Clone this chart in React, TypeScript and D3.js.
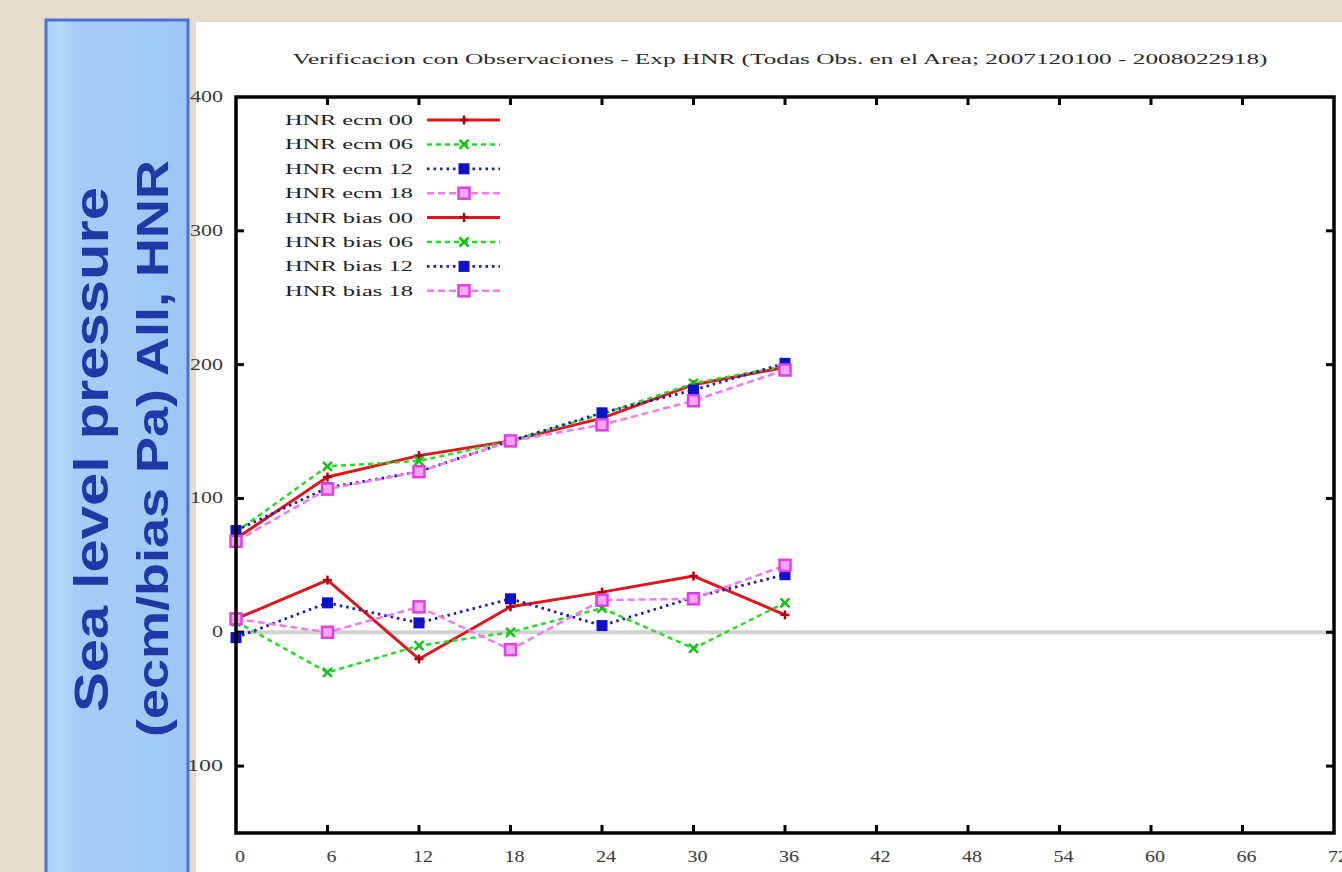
import React from "react";
import * as d3 from "d3";

// Forecast lead times (hours)
const leadTimes = [0, 6, 12, 18, 24, 30, 36];

// RMSE (ecm) per analysis cycle, Pa
const ecm00 = [70, 116, 132, 143, 160, 185, 198];
const ecm06 = [75, 124, 128, 143, 163, 186, 199];
const ecm12 = [76, 108, 120, 143, 164, 181, 201];
const ecm18 = [68, 107, 120, 143, 155, 173, 196];

// Bias per analysis cycle, Pa
const bias00 = [10, 39, -20, 19, 30, 42, 13];
const bias06 = [8, -30, -10, 0, 18, -12, 22];
const bias12 = [-4, 22, 7, 25, 5, 26, 43];
const bias18 = [10, 0, 19, -13, 24, 25, 50];

const xTicks = [0, 6, 12, 18, 24, 30, 36, 42, 48, 54, 60, 66, 72];
const yTicks = [400, 300, 200, 100, 0, -100];

const legendLabels = [
  "HNR ecm 00",
  "HNR ecm 06",
  "HNR ecm 12",
  "HNR ecm 18",
  "HNR bias 00",
  "HNR bias 06",
  "HNR bias 12",
  "HNR bias 18",
];

const titleText =
  "Verificacion con Observaciones - Exp HNR (Todas Obs. en el Area; 2007120100 - 2008022918)";

type Style = { color: string; dash: string; marker: "plus" | "cross" | "fsq" | "osq"; width: number };

const cycleStyles: Style[] = [
  { color: "#e0161c", dash: "none", marker: "plus", width: 3 },
  { color: "#22dd22", dash: "5 4", marker: "cross", width: 2.5 },
  { color: "#1a1ab8", dash: "2.5 4", marker: "fsq", width: 2.8 },
  { color: "#f07af0", dash: "7 4", marker: "osq", width: 2.5 },
];

const seriesValues = [ecm00, ecm06, ecm12, ecm18, bias00, bias06, bias12, bias18];

const W = 1342;
const H = 872;
const x = d3.scaleLinear().domain([0, 72]).range([236, 1334]);
const y = d3.scaleLinear().domain([-150, 400]).range([833, 97]);

function Marker({ cx, cy, s }: { cx: number; cy: number; s: Style }) {
  if (s.marker === "plus") {
    return (
      <g stroke="#b00010" strokeWidth={2.5}>
        <line x1={cx - 4.5} x2={cx + 4.5} y1={cy} y2={cy} />
        <line x1={cx} x2={cx} y1={cy - 4.5} y2={cy + 4.5} />
      </g>
    );
  }
  if (s.marker === "cross") {
    return (
      <g stroke="#18c018" strokeWidth={2.5}>
        <line x1={cx - 4.5} x2={cx + 4.5} y1={cy - 4.5} y2={cy + 4.5} />
        <line x1={cx - 4.5} x2={cx + 4.5} y1={cy + 4.5} y2={cy - 4.5} />
      </g>
    );
  }
  if (s.marker === "fsq") {
    return <rect x={cx - 5.5} y={cy - 5.5} width={11} height={11} fill="#1010c8" />;
  }
  return (
    <rect x={cx - 5.5} y={cy - 5.5} width={11} height={11} fill="#f6a8f6" stroke="#e040e0" strokeWidth={2.5} />
  );
}

export default function App() {
  const line = d3
    .line<number>()
    .x((_, i) => x(leadTimes[i]))
    .y((d) => y(d));

  return (
    <svg
      width={W}
      height={H}
      style={{ position: "absolute", left: 0, top: 0, display: "block" }}
      fontFamily="'Liberation Serif', 'DejaVu Serif', serif"
    >
      <defs>
        <linearGradient id="boxFill" x1="0" x2="1" y1="0" y2="0">
          <stop offset="0" stopColor="#a7cff6" />
          <stop offset="0.1" stopColor="#b6dafa" />
          <stop offset="0.2" stopColor="#a6cdf6" />
          <stop offset="1" stopColor="#9ec8f4" />
        </linearGradient>
      </defs>

      {/* page background */}
      <rect x={0} y={0} width={W} height={H} fill="#e6dccc" />
      <rect x={196} y={22} width={W - 196} height={H - 22} fill="#ffffff" />

      {/* title */}
      <text
        x={780}
        y={64}
        textAnchor="middle"
        fontSize={15}
        fill="#2a2a2a"
        textLength={975}
        lengthAdjust="spacingAndGlyphs"
      >
        {titleText}
      </text>

      {/* zero reference line */}
      <line x1={x(0)} x2={x(72)} y1={y(0)} y2={y(0)} stroke="#d2d2d2" strokeWidth={4} />

      {/* ticks, mirrored on all sides */}
      <g stroke="#000" strokeWidth={3}>
        {xTicks.slice(1, -1).map((t) => (
          <g key={"xt" + t}>
            <line x1={x(t)} x2={x(t)} y1={833} y2={825} />
            <line x1={x(t)} x2={x(t)} y1={97} y2={105} />
          </g>
        ))}
        {yTicks.slice(1).map((t) => (
          <g key={"yt" + t}>
            <line x1={236} x2={244} y1={y(t)} y2={y(t)} />
            <line x1={1334} x2={1326} y1={y(t)} y2={y(t)} />
          </g>
        ))}
      </g>

      {/* tick labels */}
      <g fill="#3a3a3a" fontSize={16}>
        {xTicks.map((t) => (
          <text
            key={"xl" + t}
            x={x(t) + 4}
            y={862}
            textAnchor="middle"
            textLength={String(t).length * 10}
            lengthAdjust="spacingAndGlyphs"
          >
            {t}
          </text>
        ))}
        {yTicks.map((t) => (
          <text
            key={"yl" + t}
            x={223}
            y={y(t) + 5}
            textAnchor="end"
            textLength={String(t).length * 11}
            lengthAdjust="spacingAndGlyphs"
          >
            {t}
          </text>
        ))}
      </g>

      {/* series */}
      {seriesValues.map((vals, k) => {
        const s = cycleStyles[k % 4];
        return (
          <g key={"s" + k}>
            <path
              d={line(vals) || ""}
              fill="none"
              stroke={s.color}
              strokeWidth={s.width}
              strokeDasharray={s.dash}
              strokeLinejoin="round"
            />
            {vals.map((v, i) => (
              <Marker key={i} cx={x(leadTimes[i])} cy={y(v)} s={s} />
            ))}
          </g>
        );
      })}

      {/* legend */}
      {legendLabels.map((lab, k) => {
        const s = cycleStyles[k % 4];
        const ry = 120 + k * 24.4;
        return (
          <g key={"lg" + k}>
            <text
              x={413}
              y={ry + 5}
              textAnchor="end"
              fontSize={15}
              fill="#222"
              textLength={128}
              lengthAdjust="spacingAndGlyphs"
            >
              {lab}
            </text>
            <line
              x1={427}
              x2={500}
              y1={ry}
              y2={ry}
              stroke={s.color}
              strokeWidth={s.width}
              strokeDasharray={s.dash}
            />
            <Marker cx={464} cy={ry} s={s} />
          </g>
        );
      })}

      {/* plot frame */}
      <rect x={236} y={97} width={1098} height={736} fill="none" stroke="#000" strokeWidth={3.5} />

      {/* axis title panel */}
      <rect x={46} y={20} width={142} height={H} fill="url(#boxFill)" stroke="#4d6fd9" strokeWidth={3} />
      <g
        fontFamily="'Liberation Sans', Arial, sans-serif"
        fontWeight="bold"
        fill="#1d3aa6"
      >
        <text
          transform="translate(108,712) rotate(-90)"
          fontSize={49}
          textLength={525}
          lengthAdjust="spacingAndGlyphs"
        >
          Sea level pressure
        </text>
        <text
          transform="translate(168,737) rotate(-90)"
          fontSize={45}
          textLength={577}
          lengthAdjust="spacingAndGlyphs"
        >
          (ecm/bias Pa) All, HNR
        </text>
      </g>
    </svg>
  );
}
